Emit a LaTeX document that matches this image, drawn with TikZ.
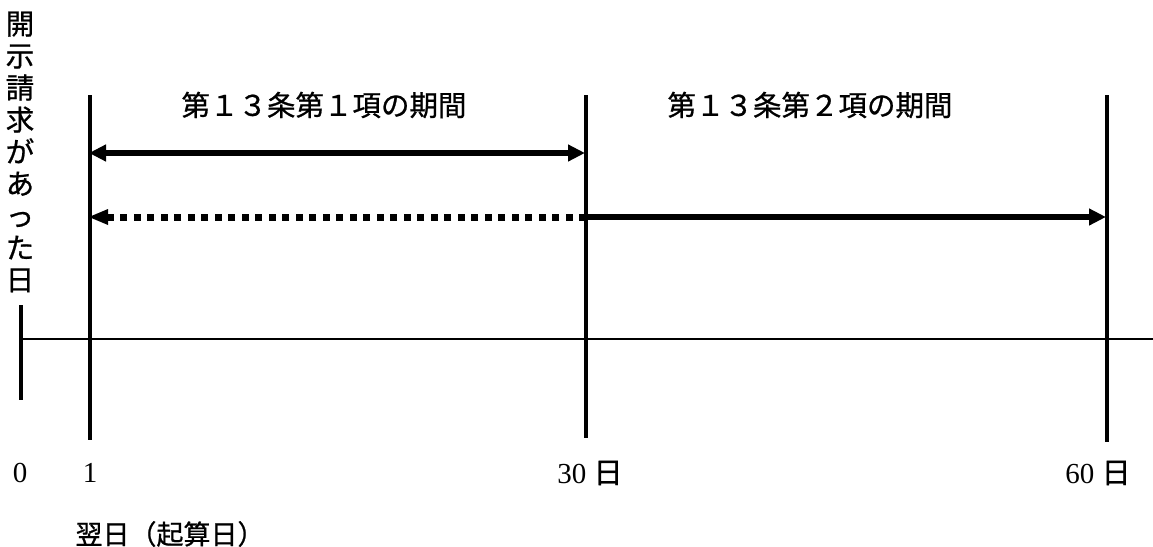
\documentclass[tikz,border=0pt]{standalone}
\usepackage{fontspec}
\setmainfont{Liberation Serif}
\newfontfamily\jp[FakeBold=0.8]{Noto Sans CJK JP}
\usetikzlibrary{arrows.meta}
\begin{document}
\begin{tikzpicture}[x=1pt,y=-1pt,
  tick/.style={line width=3.2pt},
  axisline/.style={line width=2.6pt},
  period/.style={line width=6pt},
  dotperiod/.style={line width=7pt,dash pattern=on 7pt off 6.5pt},
  lbl/.style={font=\jp\fontsize{28.5}{32}\selectfont, inner sep=0pt},
  num/.style={font=\fontsize{29}{30}\selectfont, inner sep=0pt}]
\useasboundingbox (0,0) rectangle (1153,546);
% coordinates
\coordinate (z0t) at (21,305);
\coordinate (z0b) at (21,400);
\coordinate (d1t) at (90,95);
\coordinate (d1b) at (90,440);
\coordinate (d30t) at (586,95);
\coordinate (d30b) at (586,438);
\coordinate (d60t) at (1107,95);
\coordinate (d60b) at (1107,442);
\coordinate (axL) at (21,339);
\coordinate (axR) at (1153,339);
\coordinate (a1L) at (89,153);
\coordinate (a1R) at (585,153);
\coordinate (a2L) at (89,217);
\coordinate (a2M) at (586,217);
\coordinate (a2R) at (1106,217);
% lines
\draw[tick] (z0t) -- (z0b);
\draw[tick] (d1t) -- (d1b);
\draw[tick] (d30t) -- (d30b);
\draw[tick] (d60t) -- (d60b);
\draw[axisline] (axL) -- (axR);
% arrows
\draw[period,{Triangle[length=17pt,width=16pt]}-{Triangle[length=17pt,width=16pt]}] (a1L) -- (a1R);
\draw[dotperiod] (a2M) -- ([xshift=17pt]a2L);
\fill (a2L) ++(19,-8) -- (a2L) -- ++(19,8) -- cycle;
\draw[period,-{Triangle[length=17pt,width=16pt]}] (a2M) -- (a2R);
% texts
\node[lbl, align=center] (vt) at (20,152) {開\\示\\請\\求\\が\\あ\\っ\\た\\日};
\node[lbl] (p1) at (324,105) {第１３条第１項の期間};
\node[lbl] (p2) at (810,105) {第１３条第２項の期間};
\node[num] (n0) at (20,473) {0};
\node[num] (n1) at (90,473) {1};
\node[num] (n30) at (590,473) {30 {\jp 日}};
\node[num] (n60) at (1098,473) {60 {\jp 日}};
\node[lbl, font=\jp\fontsize{27}{30}\selectfont] (ki) at (170,534) {翌日（起算日）};
\end{tikzpicture}
\end{document}
